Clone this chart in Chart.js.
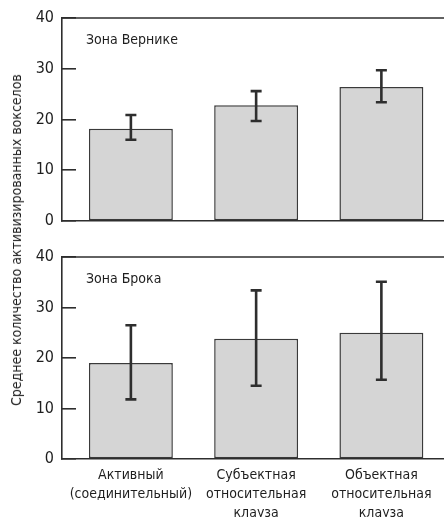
<!DOCTYPE html>
<html>
<head>
<meta charset="utf-8">
<script src="https://cdn.jsdelivr.net/npm/chart.js@4/dist/chart.umd.min.js"></script>
<style>
  html, body { margin: 0; padding: 0; background: #fff; }
  body { width: 444px; height: 517px; overflow: hidden; position: relative; }
  canvas { position: absolute; left: 0; }
  #top { top: 0; }
  #bottom { top: 235px; }
  #ytitle {
    position: absolute; left: 16px; top: 240px;
    transform: translate(-50%, -50%) rotate(-90deg);
    white-space: nowrap; color: #1e1e1e;
    font: 14px 'Liberation Sans Narrow', 'Arial Narrow', 'DejaVu Sans Condensed', sans-serif;
  }
</style>
</head>
<body>
<canvas id="top" width="444" height="240"></canvas>
<canvas id="bottom" width="444" height="300"></canvas>
<div id="ytitle">Среднее количество активизированных вокселов</div>
<script>
const categories = [
  ['Активный', '(соединительный)'],
  ['Субъектная', 'относительная', 'клауза'],
  ['Объектная', 'относительная', 'клауза']
];
const yTicks = [0, 10, 20, 30, 40];
const panelTitles = ['Зона Вернике', 'Зона Брока'];

// зона Вернике
const wernickeMeans = [18.2, 22.8, 26.4];
const wernickeLow = [16.0, 19.7, 23.4];
const wernickeHigh = [20.9, 25.6, 29.7];

// зона Брока
const brocaMeans = [19.0, 23.8, 25.0];
const brocaLow = [11.8, 14.5, 15.7];
const brocaHigh = [26.5, 33.4, 35.1];

const FONT = "'Liberation Sans Narrow', 'Arial Narrow', 'DejaVu Sans Condensed', sans-serif";
const INK = '#2e2e2e';

// рамка сверху, подпись панели и доверительные интервалы
const panelPlugin = {
  id: 'panel',
  afterDatasetsDraw(chart, args, opts) {
    const { ctx, chartArea, scales } = chart;
    ctx.save();
    ctx.strokeStyle = INK;
    ctx.lineWidth = 1.6;
    ctx.beginPath();
    ctx.moveTo(chartArea.left, chartArea.top);
    ctx.lineTo(chartArea.right, chartArea.top);
    ctx.stroke();

    ctx.lineWidth = 2.6;
    opts.low.forEach((lo, i) => {
      const x = scales.x.getPixelForValue(i);
      const y1 = scales.y.getPixelForValue(lo);
      const y2 = scales.y.getPixelForValue(opts.high[i]);
      ctx.beginPath();
      ctx.moveTo(x, y1); ctx.lineTo(x, y2);
      ctx.moveTo(x - 5.5, y1); ctx.lineTo(x + 5.5, y1);
      ctx.moveTo(x - 5.5, y2); ctx.lineTo(x + 5.5, y2);
      ctx.stroke();
    });

    ctx.fillStyle = '#1e1e1e';
    ctx.font = '14px ' + FONT;
    ctx.textBaseline = 'middle';
    ctx.fillText(opts.title, chartArea.left + 24, chartArea.top + 22);
    ctx.restore();
  }
};

function makePanel(id, means, low, high, title, showLabels, padTop, padBottom) {
  new Chart(document.getElementById(id), {
    type: 'bar',
    data: {
      datasets: [{
        data: means.map((v, i) => ({ x: i, y: v })),
        backgroundColor: '#d5d5d5',
        borderColor: '#3a3a3a',
        borderWidth: 1.5,
        borderSkipped: false,
        barPercentage: 0.67,
        categoryPercentage: 1
      }]
    },
    options: {
      responsive: false,
      animation: false,
      layout: { padding: { top: padTop, bottom: padBottom, left: 0, right: 0 } },
      plugins: {
        legend: { display: false },
        tooltip: { enabled: false },
        panel: { low: low, high: high, title: title }
      },
      scales: {
        x: {
          type: 'linear',
          offset: false,
          min: -0.55,
          max: 2.5,
          afterBuildTicks: (s) => { s.ticks = categories.map((c, i) => ({ value: i })); },
          afterFit: (s) => { s.height = showLabels ? 76 : 0; s.paddingLeft = 0; s.paddingRight = 0; },
          grid: { display: false, drawTicks: false, offset: false },
          border: { display: true, color: INK, width: 1.6 },
          ticks: {
            display: showLabels,
            padding: 7,
            maxRotation: 0,
            autoSkip: false,
            color: '#1e1e1e',
            font: { family: FONT, size: 14, lineHeight: 1.36 },
            callback: (v) => categories[v]
          }
        },
        y: {
          min: 0,
          max: 40,
          afterBuildTicks: (s) => { s.ticks = yTicks.map(v => ({ value: v })); },
          afterFit: (s) => { s.width = 62; s.paddingTop = 0; s.paddingBottom = 0; },
          grid: { drawOnChartArea: false, tickLength: -14, color: INK, lineWidth: 1.6 },
          border: { display: true, color: INK, width: 1.6 },
          ticks: {
            padding: 22,
            color: '#1e1e1e',
            font: { family: FONT, size: 16 }
          }
        }
      }
    },
    plugins: [panelPlugin]
  });
}

makePanel('top', wernickeMeans, wernickeLow, wernickeHigh, panelTitles[0], false, 18, 19);
makePanel('bottom', brocaMeans, brocaLow, brocaHigh, panelTitles[1], true, 22, 0);
</script>
</body>
</html>
